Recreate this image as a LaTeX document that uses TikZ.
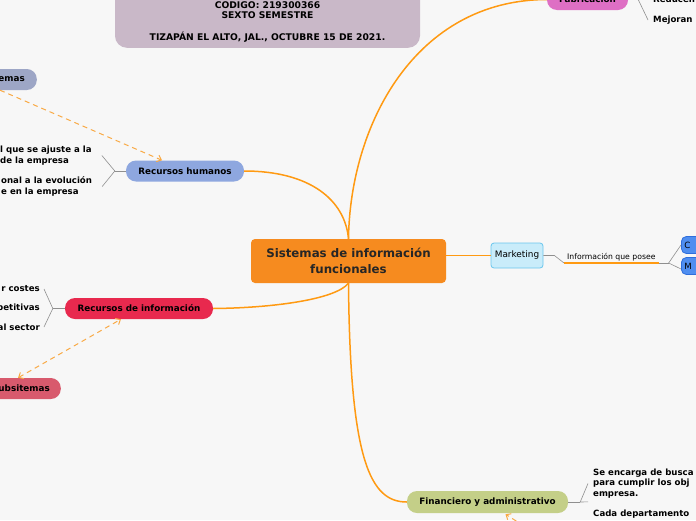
\documentclass[tikz,border=0pt]{standalone}
\usepackage{fontspec}
\setmainfont{DejaVu Sans}
\usetikzlibrary{positioning,calc,arrows.meta}

\definecolor{fondo}{HTML}{F7F7F7}
\definecolor{cabecera}{HTML}{C9B8C8}
\definecolor{naranja}{HTML}{F68B1F}
\definecolor{tronco}{HTML}{FF9A12}
\definecolor{punteado}{HTML}{F9AA45}
\definecolor{azulrh}{HTML}{8EA7DF}
\definecolor{grisazul}{HTML}{9DA6C6}
\definecolor{rojori}{HTML}{E8294E}
\definecolor{rosasub}{HTML}{D85A6D}
\definecolor{rosafab}{HTML}{DE6FC4}
\definecolor{verdefin}{HTML}{C4CF88}
\definecolor{celeste}{HTML}{C9ECFA}
\definecolor{celesteborde}{HTML}{6AC6EE}
\definecolor{azulmk}{HTML}{4F8EF0}
\definecolor{azulmkborde}{HTML}{2E6EDC}
\definecolor{rama}{HTML}{8F8F8F}

\tikzset{
	hub/.style = {
		fill=naranja,
		rectangle,
		rounded corners=4pt,
		minimum width=195pt,
		minimum height=44pt,
		align=center,
		text=black!85,
		font=\fontsize{11.8}{15.5}\selectfont\bfseries
	},
	topic/.style = {
		rectangle,
		rounded corners=10pt,
		minimum height=21pt,
		inner xsep=10pt,
		text=black,
		font=\fontsize{8.8}{11}\selectfont\bfseries
	},
	sub/.style = {
		rectangle,
		rounded corners=5pt,
		line width=0.8pt,
		minimum height=17pt,
		font=\fontsize{8.6}{11}\selectfont
	},
	leaf/.style = {
		inner sep=0pt,
		text=black,
		font=\fontsize{8.6}{10.6}\selectfont\bfseries
	},
	trunk/.style = {
		draw=tronco,
		line width=1.5pt
	},
	twig/.style = {
		draw=rama,
		line width=0.6pt
	},
	xlink/.style = {
		draw=punteado,
		line width=1pt,
		dash pattern=on 5pt off 4pt,
		-{Straight Barb[length=4pt,width=7pt]}
	}
}

\begin{document}
\begin{tikzpicture}[x=1pt,y=-1pt]
	
	% --- Fondo ---
	\useasboundingbox (0,0) rectangle (696,520);
	\clip (0,0) rectangle (696,520);
	\fill[fondo] (0,0) rectangle (696,520);
	
	% --- Cabecera ---
	\node[fill=cabecera, rounded corners=12pt, minimum width=305pt,
	minimum height=90pt, anchor=south] (head) at (267.5,48) {};
	\node[align=center, inner sep=0pt, anchor=south,
	font=\fontsize{9.2}{10.4}\selectfont\bfseries]
	(headtxt) at ([yshift=5pt]head.south)
	{CODIGO: 219300366\\SEXTO SEMESTRE\\[11.6pt]TIZAPÁN EL ALTO, JAL., OCTUBRE 15 DE 2021.};
	
	% --- Nodo central ---
	\node[hub] (hub) at (348.5,261) {Sistemas de información\\funcionales};
	
	% --- Temas ---
	\node[topic, fill=azulrh, minimum width=118pt] (rh) at (185,171) {Recursos humanos};
	\node[topic, fill=rojori, minimum width=148pt] (ri) at (139,308.5) {Recursos de información};
	\node[topic, fill=verdefin, minimum width=161pt, minimum height=22pt] (fin) at (487.5,502) {Financiero y administrativo};
	\node[topic, fill=rosafab, minimum width=81pt] (fab) at (587.5,-0.5) {Fabricación};
	\node[topic, fill=grisazul, anchor=east, text width=60pt, align=right, inner xsep=12pt] (emas) at (37,79.5) {emas};
	\node[topic, fill=rosasub, anchor=east, text width=80pt, align=right, inner xsep=11pt] (ubs) at (61,388.5) {ubsitemas};
	\node[sub, fill=celeste, draw=celesteborde, minimum width=52pt, minimum height=25pt,
	rounded corners=3pt, font=\fontsize{8.9}{11}\selectfont] (mkt) at (517,255.5) {Marketing};
	
	% --- Conexiones al centro ---
	\draw[trunk] (hub.north) .. controls (350,125) and (415,0) .. (fab.west);
	\draw[trunk] (hub.north) .. controls (345,200) and (310,171) .. (rh.east);
	\draw[trunk] (hub.south) .. controls (335,300) and (270,308) .. (ri.east);
	\draw[trunk] (hub.south) .. controls (350,460) and (370,502) .. (fin.west);
	\draw[trunk, line width=0.8pt] (hub.east |- mkt.west) -- (mkt.west);
	
	% --- Recursos humanos ---
	\node[leaf, anchor=west, align=left] (rh1) at (0,155.5) {l que se ajuste a la\\de la empresa};
	\node[leaf, anchor=west, align=left] (rh2) at (1,186.5) {onal a la evolución\\e en la empresa};
	\draw[twig] (rh.west) -- ++(-11,0) coordinate (rhj);
	\draw[twig] (rhj) -- ([xshift=10pt]rh1.east);
	\draw[twig] (rhj) -- ([xshift=10pt]rh2.east);
	
	% --- Recursos de informacion ---
	\node[leaf, anchor=east] (ri1) at (40,289) {r costes};
	\node[leaf, anchor=east] (ri2) at (40,308.5) {petitivas};
	\node[leaf, anchor=east] (ri3) at (40,327) {al sector};
	\draw[twig] (ri.west) -- ++(-12,0) coordinate (rij);
	\draw[twig] (rij) -- ([xshift=4pt]ri1.east);
	\draw[twig] (rij) -- ([xshift=4pt]ri3.east);
	
	% --- Fabricacion ---
	\node[leaf, anchor=west] (fab1) at (653,-1) {Reducen};
	\node[leaf, anchor=west] (fab2) at (653,20) {Mejoran la};
	\draw[twig] (fab.east) -- ++(10,0) coordinate (fabj);
	\draw[twig] (fabj) -- ([xshift=-5pt]fab1.west);
	\draw[twig] (fabj) -- ([xshift=-5pt]fab2.west);
	
	% --- Marketing ---
	\node[inner xsep=3pt, inner ysep=2pt, anchor=south west,
	font=\fontsize{7.7}{9}\selectfont] (info) at (564,263) {Información que posee};
	\node[sub, fill=azulmk, draw=azulmkborde, anchor=west, text width=50pt,
	align=left, inner xsep=3pt] (mk1) at (681,245) {C};
	\node[sub, fill=azulmk, draw=azulmkborde, anchor=west, text width=50pt,
	align=left, inner xsep=3pt] (mk2) at (681,266) {M};
	\draw[twig] (mkt.east) -- ++(11,0) -- (info.south west);
	\draw[tronco, line width=1.3pt] (info.south west) -- (info.south east);
	\draw[twig] (info.south east) -- ++(10,0) coordinate (mkj);
	\draw[twig] (mkj) -- (mk1.west);
	\draw[twig] (mkj) -- ([yshift=-3pt]mk2.west);
	
	% --- Financiero y administrativo ---
	\node[leaf, anchor=west, align=left] (fin1) at (593,483.5) {Se encarga de busca\\para cumplir los obj\\empresa.};
	\node[leaf, anchor=north west] (fin2) at (593,509.5) {Cada departamento};
	\draw[twig] (fin.east) -- ++(12,0) coordinate (finj);
	\draw[twig] (finj) -- ([xshift=-5pt]fin1.west);
	\draw[twig] (finj) -- ([xshift=-5pt,yshift=12pt]fin2.west);
	
	% --- Relaciones punteadas ---
	\draw[xlink] ([xshift=-37pt]emas.south east) -- ([xshift=-23pt]rh.north);
	\draw[xlink, {Straight Barb[length=4pt,width=7pt]}-{Straight Barb[length=4pt,width=7pt]}]
	([xshift=-43pt]ubs.north east) -- ([xshift=-18pt]ri.south);
	\coordinate (finin) at (524,526);
	\draw[xlink] (finin) -- ([xshift=18pt,yshift=-1pt]fin.south);
	
\end{tikzpicture}
\end{document}
